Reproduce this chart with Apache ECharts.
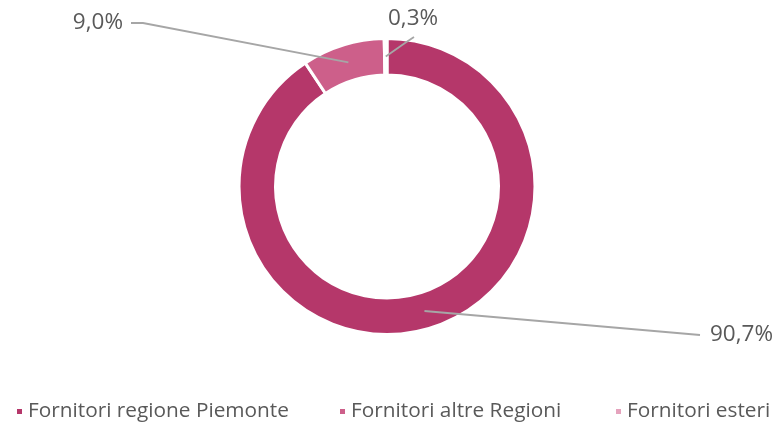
<!DOCTYPE html>
<html>
<head>
<meta charset="utf-8">
<script src="https://cdn.jsdelivr.net/npm/echarts@6/dist/echarts.min.js"></script>
<style>html,body{margin:0;padding:0;background:#fff}#c{width:775px;height:422px}</style>
</head>
<body>
<div id="c"></div>
<script>
var categories = ['Fornitori regione Piemonte', 'Fornitori altre Regioni', 'Fornitori esteri'];
var values = [90.7, 9.0, 0.3];
var valueLabels = ['90,7%', '9,0%', '0,3%'];
var colors = ['#B5376A', '#CD5F8A', '#E5A3BD'];

// label placement (text anchor + leader line elbow/end), layout only
var labelSpots = [
  {x: 710, y: 335, align: 'left', elbow: null, end: [700, 335]},
  {x: 123, y: 23, align: 'right', elbow: [143, 23], end: [131, 23]},
  {x: 388, y: 19, align: 'left', elbow: [405, 43], end: [414, 37]}
];
var legendLeft = [15, 338, 614];

var chart = echarts.init(document.getElementById('c'), null, {renderer: 'canvas'});

var data = categories.map(function (n, i) {
  return {name: n, value: values[i], itemStyle: {color: colors[i]}};
});
var overlayData = categories.map(function (n, i) {
  return {name: n, value: values[i]};
});

var legends = categories.map(function (n, i) {
  return {
    data: [n],
    left: legendLeft[i],
    top: 401,
    padding: 0,
    icon: 'rect',
    itemWidth: 7,
    itemHeight: 7,
    itemGap: 0,
    selectedMode: false,
    textStyle: {color: '#595959', fontSize: 20.8, fontFamily: 'Open Sans'}
  };
});

var common = {
  type: 'pie',
  center: [387, 186.5],
  radius: [111.5, 148],
  startAngle: 90,
  clockwise: true,
  avoidLabelOverlap: false
};

chart.setOption({
  animation: false,
  legend: legends,
  series: [
    Object.assign({}, common, {
      z: 2,
      itemStyle: {borderColor: '#fff', borderWidth: 3},
      label: {show: false},
      labelLine: {show: false},
      data: data
    }),
    Object.assign({}, common, {
      z: 5,
      silent: true,
      itemStyle: {color: 'rgba(0,0,0,0)', borderWidth: 0},
      label: {
        show: true,
        formatter: function (p) { return valueLabels[p.dataIndex]; },
        color: '#595959',
        fontSize: 22.5,
        fontFamily: 'Open Sans'
      },
      labelLine: {show: true, length: 10, length2: 10, lineStyle: {color: '#A6A6A6', width: 1.8}},
      labelLayout: function (params) {
        var s = labelSpots[params.dataIndex];
        var pts = params.labelLinePoints;
        var dx = pts[1][0] - pts[0][0], dy = pts[1][1] - pts[0][1];
        var len = Math.sqrt(dx * dx + dy * dy) || 1;
        var inset = 18;
        var st = [pts[0][0] - dx / len * inset, pts[0][1] - dy / len * inset];
        var elbow = s.elbow || [(st[0] + s.end[0]) / 2, (st[1] + s.end[1]) / 2];
        return {
          x: s.x,
          y: s.y,
          align: s.align,
          verticalAlign: 'middle',
          labelLinePoints: [st, elbow, s.end]
        };
      },
      data: overlayData
    })
  ]
});
</script>
</body>
</html>
